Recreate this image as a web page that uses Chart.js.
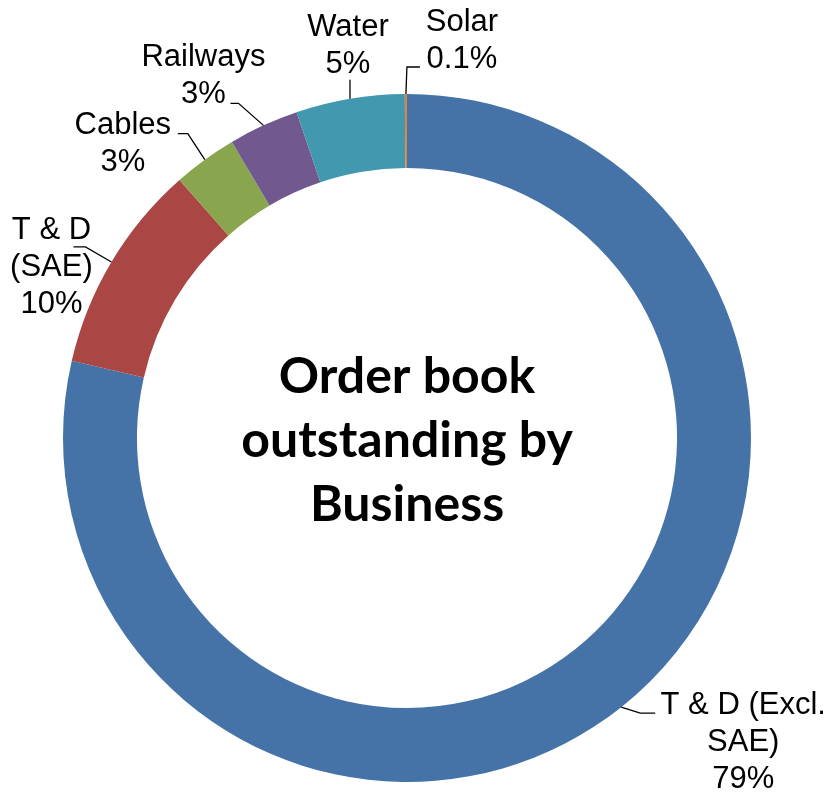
<!DOCTYPE html>
<html>
<head>
<meta charset="utf-8">
<script src="https://cdn.jsdelivr.net/npm/chart.js@4.4.1/dist/chart.umd.min.js"></script>
<style>
  body { margin: 0; background: #fff; }
  #wrap { position: relative; width: 831px; height: 793px; }
</style>
</head>
<body>
<div id="wrap"><canvas id="orderBook"></canvas></div>
<script>
// === DATOS ===
const categories = ['T & D (Excl. SAE)', 'T & D (SAE)', 'Cables', 'Railways', 'Water', 'Solar'];
const shares = [78.6, 9.9, 3.0, 3.3, 5.1, 0.1];
const shareLabels = ['79%', '10%', '3%', '3%', '5%', '0.1%'];
const nameLines = [['T & D (Excl.', 'SAE)'], ['T & D', '(SAE)'], ['Cables'], ['Railways'], ['Water'], ['Solar']];
const centerTitle = ['Order book', 'outstanding by', 'Business'];

const sliceColors = ['#4572A7', '#AA4643', '#89A54E', '#71588F', '#4198AF', '#DB843D'];

// posicion de cada etiqueta respecto al borde exterior del arco (punto medio)
const labelPlacement = [
  { dx: 122, dy: -4,  leader: [[19, 6], [34, 6]] },
  { dx: -60, dy: -34, leader: [[-26, -15], [-38, -15]] },
  { dx: -82, dy: -37, leader: [[-17, -26], [-27, -26]] },
  { dx: -60, dy: -70, leader: [[-25, -22], [-33, -22]] },
  { dx: -2,  dy: -74, leader: [[0, -19]] },
  { dx: 56,  dy: -74, leader: [[1, -27], [14, -27]] }
];

const labelFont = '31px "Liberation Sans", Arial, sans-serif';
const lineGap = 37;

// === PLUGIN: etiquetas con lineas guia + titulo central ===
const ringLabels = {
  id: 'ringLabels',
  afterDraw(chart) {
    const ctx = chart.ctx;
    const arcs = chart.getDatasetMeta(0).data;
    ctx.save();
    ctx.fillStyle = '#000';
    ctx.strokeStyle = '#000';
    ctx.lineWidth = 1.3;
    ctx.font = labelFont;
    ctx.textAlign = 'center';
    ctx.textBaseline = 'alphabetic';

    arcs.forEach((arc, i) => {
      const mid = (arc.startAngle + arc.endAngle) / 2;
      const ax = arc.x + Math.cos(mid) * arc.outerRadius;
      const ay = arc.y + Math.sin(mid) * arc.outerRadius;
      const p = labelPlacement[i];

      ctx.beginPath();
      ctx.moveTo(ax, ay);
      p.leader.forEach(([lx, ly]) => ctx.lineTo(ax + lx, ay + ly));
      ctx.stroke();

      const lines = nameLines[i].concat([shareLabels[i]]);
      lines.forEach((txt, k) => {
        ctx.fillText(txt, ax + p.dx, ay + p.dy + k * lineGap + 11);
      });
    });

    // titulo central
    const c = arcs[0];
    ctx.font = 'bold 50px Lato, "Open Sans", sans-serif';
    ctx.textBaseline = 'middle';
    centerTitle.forEach((txt, k) => {
      ctx.fillText(txt, c.x, c.y - 61 + k * 64);
    });
    ctx.restore();
  }
};

new Chart(document.getElementById('orderBook'), {
  type: 'doughnut',
  data: {
    labels: categories,
    datasets: [{
      data: shares,
      backgroundColor: sliceColors,
      borderWidth: 0
    }]
  },
  options: {
    responsive: true,
    maintainAspectRatio: false,
    animation: false,
    cutout: '78.5%',
    layout: { padding: { left: 63, right: 80, top: 94, bottom: 11 } },
    plugins: {
      legend: { display: false },
      tooltip: { enabled: false }
    }
  },
  plugins: [ringLabels]
});
</script>
</body>
</html>
